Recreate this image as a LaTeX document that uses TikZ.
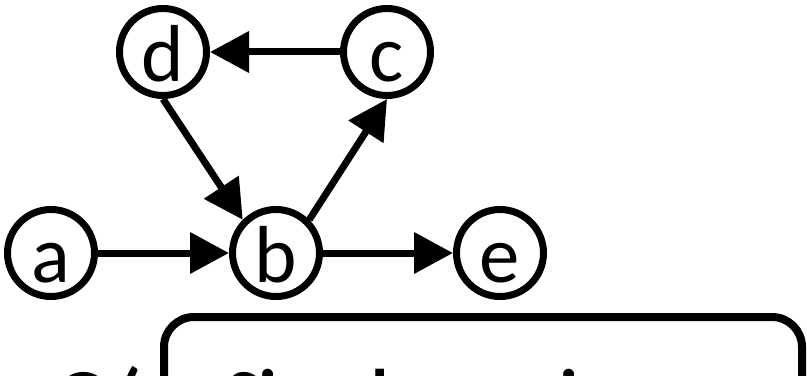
\documentclass[tikz,border=0pt]{standalone}
\usepackage{fontspec}
\setmainfont{Carlito}
\usepackage{tikz}
\usetikzlibrary{
    arrows.meta,
    positioning
}

\begin{document}
\begin{tikzpicture}[
        >={Triangle[length=0.78cm,width=0.8cm]},
        vertex/.style={
            circle,
            draw,
            line width=0.14cm,
            minimum size=1.74cm,
            inner sep=0pt,
            text height=1.18cm,
            text depth=0pt,
            font=\fontsize{46}{46}\selectfont
        },
        edge/.style={->, line width=0.14cm},
        slidetext/.style={
            anchor=base west,
            inner sep=0pt,
            font=\fontsize{40}{40}\selectfont\bfseries
        }
    ]
    \useasboundingbox (0,0) rectangle (16.14,7.5);
    \clip (0,0) rectangle (16.14,7.5);

    \node[vertex] (d) at (3.26,6.46) {d};
    \node[vertex] (c) at (7.74,6.46) {c};
    \node[vertex] (a) at (1.02,2.44) {a};
    \node[vertex] (b) at (5.52,2.44) {b};
    \node[vertex] (e) at (10.0,2.44) {e};

    \draw[edge] (c) -- (d);
    \draw[edge] (a) -- (b);
    \draw[edge] (b) -- (e);
    \draw[edge] (d.south) -- (b.north west);
    \draw[edge] (b.north east) -- (c.south);

    % text under the popup
    \node[slidetext] (g) at (1.16,-0.86) {G (};
    \draw[line width=0.16cm, rounded corners=0.6cm, fill=white]
        (3.28,1.16) rectangle (16.04,-3);
    \node[slidetext] (note) at (4.52,-0.86) {Simple version};
\end{tikzpicture}
\end{document}
